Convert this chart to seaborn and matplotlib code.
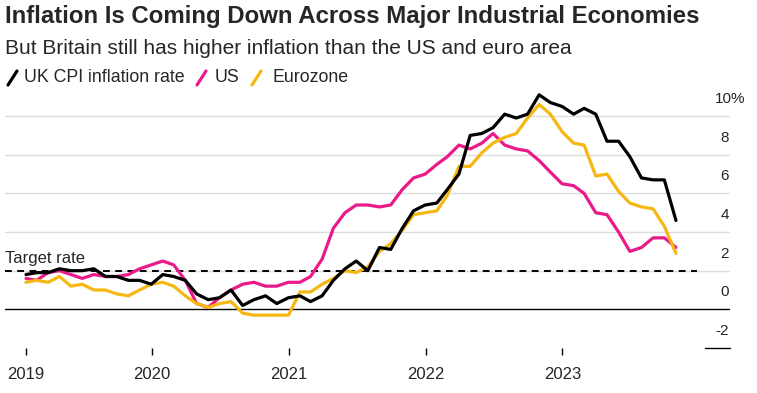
import numpy as np
import pandas as pd

import matplotlib.pyplot as plt
from matplotlib.lines import Line2D
import seaborn as sns


# monthly readings, Jan 2019 - Oct 2023 (year-over-year, %)
uk = [1.8, 1.9, 1.9, 2.1, 2.0, 2.0, 2.1, 1.7, 1.7, 1.5, 1.5, 1.3,
      1.8, 1.7, 1.5, 0.8, 0.5, 0.6, 1.0, 0.2, 0.5, 0.7, 0.3, 0.6,
      0.7, 0.4, 0.7, 1.5, 2.1, 2.5, 2.0, 3.2, 3.1, 4.2, 5.1, 5.4,
      5.5, 6.2, 7.0, 9.0, 9.1, 9.4, 10.1, 9.9, 10.1, 11.1, 10.7, 10.5,
      10.1, 10.4, 10.1, 8.7, 8.7, 7.9, 6.8, 6.7, 6.7, 4.6]
us = [1.6, 1.5, 1.9, 2.0, 1.8, 1.6, 1.8, 1.7, 1.7, 1.8, 2.1, 2.3,
      2.5, 2.3, 1.5, 0.3, 0.1, 0.6, 1.0, 1.3, 1.4, 1.2, 1.2, 1.4,
      1.4, 1.7, 2.6, 4.2, 5.0, 5.4, 5.4, 5.3, 5.4, 6.2, 6.8, 7.0,
      7.5, 7.9, 8.5, 8.3, 8.6, 9.1, 8.5, 8.3, 8.2, 7.7, 7.1, 6.5,
      6.4, 6.0, 5.0, 4.9, 4.0, 3.0, 3.2, 3.7, 3.7, 3.2]
euro = [1.4, 1.5, 1.4, 1.7, 1.2, 1.3, 1.0, 1.0, 0.8, 0.7, 1.0, 1.3,
        1.4, 1.2, 0.7, 0.3, 0.1, 0.3, 0.4, -0.2, -0.3, -0.3, -0.3, -0.3,
        0.9, 0.9, 1.3, 1.6, 2.0, 1.9, 2.2, 3.0, 3.4, 4.1, 4.9, 5.0,
        5.1, 5.9, 7.4, 7.4, 8.1, 8.6, 8.9, 9.1, 9.9, 10.6, 10.1, 9.2,
        8.6, 8.5, 6.9, 7.0, 6.1, 5.5, 5.3, 5.2, 4.3, 2.9]
series_names = ["UK CPI inflation rate", "US", "Eurozone"]
colors = ["#000000", "#ea1a8b", "#f7b712"]
year_labels = ["2019", "2020", "2021", "2022", "2023"]
ytick_vals = [10, 8, 6, 4, 2, 0, -2]
target = 2.0

dates = pd.date_range("2019-01-31", periods=len(uk), freq="ME")
df = pd.DataFrame({"date": dates, series_names[0]: uk,
                   series_names[1]: us, series_names[2]: euro})
mdf = df.melt(id_vars="date", var_name="series", value_name="value")

sns.set_theme(style="white")
plt.rcParams["font.family"] = ["Liberation Sans", "DejaVu Sans"]

W, H = 757, 393
fig = plt.figure(figsize=(W / 100, H / 100), dpi=100)
ax = fig.add_axes([5 / W, 45 / H, 725 / W, 258 / H])

# gridlines first so lines sit on top
for v in [2, 4, 6, 8, 10]:
    ax.axhline(v, color="#dcdcdc", lw=1.0, zorder=0)
ax.axhline(0, color="black", lw=1.0, zorder=1)
ax.axhline(-2, xmin=700 / 725, xmax=1, color="black", lw=1.0, zorder=1, clip_on=False)
ax.axhline(target, xmin=0, xmax=692 / 725, color="black", lw=1.4,
           ls=(0, (3.5, 2.8)), zorder=2)

draw_order = [series_names[1], series_names[2], series_names[0]]
for name in draw_order:
    sns.lineplot(data=mdf[mdf.series == name], x="date", y="value",
                 color=colors[series_names.index(name)], lw=2.3, ax=ax,
                 legend=False, zorder=3)

day_px = 11.4 / 30.44
ax.set_xlim(dates[0] - pd.Timedelta(days=21 / day_px),
            dates[-1] + pd.Timedelta(days=54 / day_px))
ax.set_ylim(-2, 11.35)

tick_pos = [dates[0]] + [pd.Timestamp(f"{y}-01-01") for y in range(2020, 2024)]
ax.set_xticks(tick_pos)
ax.set_xticklabels(year_labels)
ax.tick_params(axis="x", length=5, width=1, color="black", pad=9,
               labelsize=12, bottom=True, direction="out")
ax.set_yticks([])
ax.set_xlabel("")
ax.set_ylabel("")
for s in ax.spines.values():
    s.set_visible(False)

# right-side value labels sit above their gridlines
lab_x = 724 / 725
off = 17 / 19.33
for v in ytick_vals:
    if v == 10:
        ax.text(740 / 725, v + off, f"{v}%", transform=ax.get_yaxis_transform(),
                ha="right", va="center", fontsize=11)
    else:
        ax.text(lab_x, v + off, str(v), transform=ax.get_yaxis_transform(),
                ha="right", va="center", fontsize=11)

ax.text(0, target + 0.62, "Target rate", transform=ax.get_yaxis_transform(),
        ha="left", va="center", fontsize=12)

narrow = ["Liberation Sans Narrow", "Liberation Sans", "DejaVu Sans"]
fig.text(5 / W, 1 - 17 / H, "Inflation Is Coming Down Across Major Industrial Economies",
         ha="left", va="center", fontsize=17.3, weight="bold", family=narrow)
fig.text(5 / W, 1 - 48 / H, "But Britain still has higher inflation than the US and euro area",
         ha="left", va="center", fontsize=15, family=narrow)

# legend: short slashes followed by names
leg_x = [8, 197, 252]
txt_x = [24, 215, 273]
for i, name in enumerate(series_names):
    fig.add_artist(Line2D([leg_x[i] / W, (leg_x[i] + 9) / W],
                          [1 - 85 / H, 1 - 71 / H], color=colors[i], lw=2.3,
                          transform=fig.transFigure))
    fig.text(txt_x[i] / W, 1 - 78 / H, name, ha="left", va="center",
             fontsize=12.8, family=narrow)

plt.savefig("out.png", dpi=100)
plt.close()
